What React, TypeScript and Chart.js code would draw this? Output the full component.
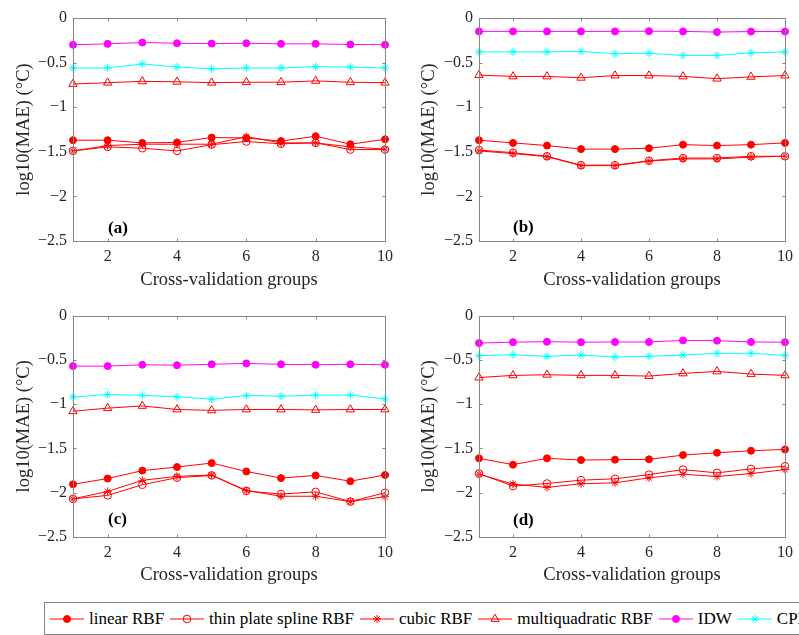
import React, { useEffect, useRef } from 'react';
import { Chart, registerables } from 'chart.js';

Chart.register(...registerables);

// ---------- data ----------
const groups = [1, 2, 3, 4, 5, 6, 7, 8, 9, 10];
const xTickValues = [2, 4, 6, 8, 10];
const yTickValues = [0, -0.5, -1, -1.5, -2, -2.5];
const seriesNames = ['linear RBF', 'thin plate spline RBF', 'cubic RBF', 'multiquadratic RBF', 'IDW', 'CPF'];
const xTitle = 'Cross-validation groups';
const yTitle = 'log10(MAE) (°C)';

// panel (a)
const aLinear = [-1.37, -1.37, -1.4, -1.395, -1.34, -1.345, -1.38, -1.325, -1.415, -1.36];
const aThinPlate = [-1.49, -1.445, -1.46, -1.49, -1.42, -1.385, -1.41, -1.4, -1.475, -1.475];
const aCubic = [-1.49, -1.43, -1.415, -1.415, -1.415, -1.33, -1.4, -1.4, -1.445, -1.47];
const aMultiquadratic = [-0.74, -0.725, -0.71, -0.715, -0.725, -0.72, -0.72, -0.705, -0.72, -0.725];
const aIDW = [-0.3, -0.29, -0.275, -0.283, -0.287, -0.283, -0.29, -0.29, -0.297, -0.3];
const aCPF = [-0.56, -0.56, -0.515, -0.55, -0.57, -0.56, -0.56, -0.545, -0.55, -0.56];

// panel (b)
const bLinear = [-1.37, -1.4, -1.43, -1.47, -1.47, -1.46, -1.42, -1.43, -1.42, -1.4];
const bThinPlate = [-1.48, -1.51, -1.55, -1.65, -1.65, -1.6, -1.57, -1.57, -1.55, -1.55];
const bCubic = [-1.49, -1.52, -1.555, -1.655, -1.655, -1.605, -1.58, -1.58, -1.56, -1.55];
const bMultiquadratic = [-0.64, -0.655, -0.655, -0.67, -0.645, -0.645, -0.655, -0.68, -0.66, -0.645];
const bIDW = [-0.15, -0.15, -0.15, -0.15, -0.15, -0.148, -0.15, -0.158, -0.152, -0.152];
const bCPF = [-0.38, -0.38, -0.38, -0.375, -0.4, -0.395, -0.42, -0.42, -0.39, -0.38];

// panel (c)
const cLinear = [-1.905, -1.84, -1.75, -1.71, -1.665, -1.76, -1.835, -1.805, -1.87, -1.8];
const cThinPlate = [-2.07, -2.03, -1.91, -1.83, -1.805, -1.98, -2.015, -1.99, -2.1, -2.0];
const cCubic = [-2.07, -1.985, -1.86, -1.815, -1.8, -1.975, -2.04, -2.04, -2.1, -2.045];
const cMultiquadratic = [-1.08, -1.045, -1.02, -1.06, -1.07, -1.06, -1.06, -1.065, -1.06, -1.06];
const cIDW = [-0.57, -0.57, -0.555, -0.56, -0.55, -0.54, -0.55, -0.555, -0.55, -0.555];
const cCPF = [-0.92, -0.89, -0.9, -0.917, -0.944, -0.902, -0.91, -0.898, -0.898, -0.94];

// panel (d)
const dLinear = [-1.612, -1.683, -1.612, -1.631, -1.627, -1.623, -1.575, -1.549, -1.526, -1.511];
const dThinPlate = [-1.784, -1.925, -1.896, -1.858, -1.843, -1.795, -1.739, -1.776, -1.731, -1.701];
const dCubic = [-1.791, -1.903, -1.94, -1.899, -1.888, -1.832, -1.791, -1.817, -1.784, -1.739];
const dMultiquadratic = [-0.7, -0.675, -0.668, -0.675, -0.675, -0.683, -0.653, -0.63, -0.66, -0.675];
const dIDW = [-0.31, -0.3, -0.295, -0.3, -0.298, -0.298, -0.28, -0.283, -0.298, -0.3];
const dCPF = [-0.453, -0.442, -0.46, -0.445, -0.468, -0.46, -0.445, -0.426, -0.426, -0.449];

// ---------- styles / layout ----------
const FONT = "'Liberation Serif', 'Times New Roman', serif";
const AXIS_COLOR = '#868686';
const TEXT_COLOR = '#262626';

const seriesStyles = [
  { color: '#ff0000', shape: 'circle', radius: 3.5, filled: true },
  { color: '#ff0000', shape: 'circle', radius: 3.8, filled: false },
  { color: '#ff0000', shape: 'star', radius: 4, filled: false },
  { color: '#ff0000', shape: 'triangle', radius: 4.8, filled: false },
  { color: '#ff00ff', shape: 'circle', radius: 3.5, filled: true },
  { color: '#00ffff', shape: 'star', radius: 4, filled: false },
];

const panels = [
  { id: 'a', label: '(a)', series: [aLinear, aThinPlate, aCubic, aMultiquadratic, aIDW, aCPF],
    left: 0, top: 0, w: 400, h: 300, padT: 18, padR: 15, yW: 73, xH: 59, yTitlePad: 13, xTitlePad: 9, labelDx: 35, labelDy: -12 },
  { id: 'b', label: '(b)', series: [bLinear, bThinPlate, bCubic, bMultiquadratic, bIDW, bCPF],
    left: 400, top: 0, w: 399, h: 300, padT: 18, padR: 9, yW: 79, xH: 59, yTitlePad: 18, xTitlePad: 9, labelDx: 34, labelDy: -13 },
  { id: 'c', label: '(c)', series: [cLinear, cThinPlate, cCubic, cMultiquadratic, cIDW, cCPF],
    left: 0, top: 300, w: 400, h: 300, padT: 15, padR: 15, yW: 73, xH: 63, yTitlePad: 13, xTitlePad: 14, labelDx: 35, labelDy: -17 },
  { id: 'd', label: '(d)', series: [dLinear, dThinPlate, dCubic, dMultiquadratic, dIDW, dCPF],
    left: 400, top: 300, w: 399, h: 300, padT: 15, padR: 9, yW: 79, xH: 63, yTitlePad: 18, xTitlePad: 14, labelDx: 34, labelDy: -16 },
];

const fmtY = (v: number) => (v === 0 ? '0' : (v < 0 ? '\u2212' : '') + String(Math.abs(v)));

const boxPlugin = {
  id: 'matlabBox',
  afterDraw(chart: any, _args: any, opts: any) {
    const { ctx, chartArea, scales } = chart;
    const l = Math.round(chartArea.left) + 0.5;
    const r = Math.round(chartArea.right) + 0.5;
    const t = Math.round(chartArea.top) + 0.5;
    const b = Math.round(chartArea.bottom) + 0.5;
    ctx.save();
    ctx.strokeStyle = AXIS_COLOR;
    ctx.lineWidth = 1;
    ctx.strokeRect(l, t, r - l, b - t);
    const tl = 3;
    ctx.beginPath();
    scales.x.ticks.forEach((tk: any) => {
      const px = Math.round(scales.x.getPixelForValue(tk.value)) + 0.5;
      ctx.moveTo(px, b); ctx.lineTo(px, b - tl);
      ctx.moveTo(px, t); ctx.lineTo(px, t + tl);
    });
    scales.y.ticks.forEach((tk: any) => {
      const py = Math.round(scales.y.getPixelForValue(tk.value)) + 0.5;
      ctx.moveTo(l, py); ctx.lineTo(l + tl, py);
      ctx.moveTo(r, py); ctx.lineTo(r - tl, py);
    });
    ctx.stroke();
    if (opts && opts.label) {
      ctx.font = `bold 17px ${FONT}`;
      ctx.fillStyle = '#000';
      ctx.textAlign = 'left';
      ctx.textBaseline = 'middle';
      ctx.fillText(opts.label, chartArea.left + opts.dx, chartArea.bottom + opts.dy);
    }
    ctx.restore();
  },
};

function Panel({ p }: { p: any }) {
  const ref = useRef<HTMLCanvasElement | null>(null);
  useEffect(() => {
    if (!ref.current) return;
    const datasets = p.series.map((vals: number[], i: number) => {
      const s = seriesStyles[i];
      return {
        label: seriesNames[i],
        data: groups.map((g, k) => ({ x: g, y: vals[k] })),
        borderColor: s.color,
        borderWidth: 1,
        backgroundColor: s.filled ? s.color : 'rgba(0,0,0,0)',
        pointStyle: s.shape,
        pointRadius: s.radius,
        pointBorderWidth: 1,
        pointBorderColor: s.color,
        pointBackgroundColor: s.filled ? s.color : 'rgba(0,0,0,0)',
        fill: false,
        tension: 0,
        clip: false,
        order: -i,
      };
    });
    const tickFont = { family: FONT, size: 16 };
    const titleFont = { family: FONT, size: 18.5 };
    const chart = new Chart(ref.current, {
      type: 'line',
      data: { datasets },
      plugins: [boxPlugin],
      options: {
        responsive: false,
        animation: false,
        devicePixelRatio: 1,
        layout: { padding: { left: 0, right: p.padR, top: p.padT, bottom: 0 } },
        plugins: {
          legend: { display: false },
          tooltip: { enabled: false },
          matlabBox: { label: p.label, dx: p.labelDx, dy: p.labelDy },
        } as any,
        scales: {
          x: {
            type: 'linear',
            min: 1,
            max: 10,
            afterBuildTicks: (ax: any) => { ax.ticks = xTickValues.map((v) => ({ value: v })); },
            afterFit: (s: any) => { s.height = p.xH; },
            grid: { display: false, drawTicks: false },
            border: { display: false },
            ticks: { font: tickFont, color: TEXT_COLOR, padding: 6, maxRotation: 0, autoSkip: false, callback: (v: any) => String(v) },
            title: { display: true, text: xTitle, font: titleFont, color: TEXT_COLOR, padding: { top: 0, bottom: p.xTitlePad } },
          },
          y: {
            type: 'linear',
            min: -2.5,
            max: 0,
            afterBuildTicks: (ax: any) => { ax.ticks = yTickValues.map((v) => ({ value: v })); },
            afterFit: (s: any) => { s.width = p.yW; },
            grid: { display: false, drawTicks: false },
            border: { display: false },
            ticks: { font: tickFont, color: TEXT_COLOR, padding: 6, autoSkip: false, callback: (v: any) => fmtY(Number(v)) },
            title: { display: true, text: yTitle, font: titleFont, color: TEXT_COLOR, padding: { top: p.yTitlePad, bottom: 0 } },
          },
        },
      } as any,
    });
    return () => chart.destroy();
  }, [p]);
  return (
    <canvas
      ref={ref}
      width={p.w}
      height={p.h}
      style={{ position: 'absolute', left: p.left, top: p.top, width: p.w, height: p.h }}
    />
  );
}

function LegendIcon({ i }: { i: number }) {
  const s = seriesStyles[i];
  const cx = 17, cy = 8, r = s.radius;
  let marker: any = null;
  if (s.shape === 'circle') {
    marker = <circle cx={cx} cy={cy} r={r} fill={s.filled ? s.color : 'none'} stroke={s.color} strokeWidth={1} />;
  } else if (s.shape === 'triangle') {
    const pts = [0, 1, 2].map((k) => {
      const a = (k * 2 * Math.PI) / 3;
      return `${cx + Math.sin(a) * r},${cy - Math.cos(a) * r}`;
    }).join(' ');
    marker = <polygon points={pts} fill="none" stroke={s.color} strokeWidth={1} />;
  } else {
    const d = Math.cos(Math.PI / 4) * r;
    marker = (
      <g stroke={s.color} strokeWidth={1}>
        <line x1={cx - r} y1={cy} x2={cx + r} y2={cy} />
        <line x1={cx} y1={cy - r} x2={cx} y2={cy + r} />
        <line x1={cx - d} y1={cy - d} x2={cx + d} y2={cy + d} />
        <line x1={cx - d} y1={cy + d} x2={cx + d} y2={cy - d} />
      </g>
    );
  }
  return (
    <svg width={34} height={16} style={{ display: 'block', flex: '0 0 auto' }}>
      <line x1={0} y1={8} x2={34} y2={8} stroke={s.color} strokeWidth={1} />
      {marker}
    </svg>
  );
}

function Legend() {
  return (
    <div
      style={{
        position: 'absolute', left: 44, top: 602, width: 820, height: 33,
        border: `1px solid ${AXIS_COLOR}`, boxSizing: 'border-box',
        display: 'flex', alignItems: 'center', paddingLeft: 5,
        fontFamily: FONT, fontSize: 17, color: '#000', whiteSpace: 'nowrap', background: '#fff',
      }}
    >
      {seriesNames.map((name, i) => (
        <div key={name} style={{ display: 'flex', alignItems: 'center', marginRight: 6, flex: '0 0 auto' }}>
          <LegendIcon i={i} />
          <span style={{ marginLeft: 5, lineHeight: '18px' }}>{name}</span>
        </div>
      ))}
    </div>
  );
}

export default function App() {
  return (
    <div style={{ position: 'fixed', left: 0, top: 0, width: 799, height: 635, overflow: 'hidden', background: '#fff' }}>
      {panels.map((p) => (
        <Panel key={p.id} p={p} />
      ))}
      <Legend />
    </div>
  );
}
